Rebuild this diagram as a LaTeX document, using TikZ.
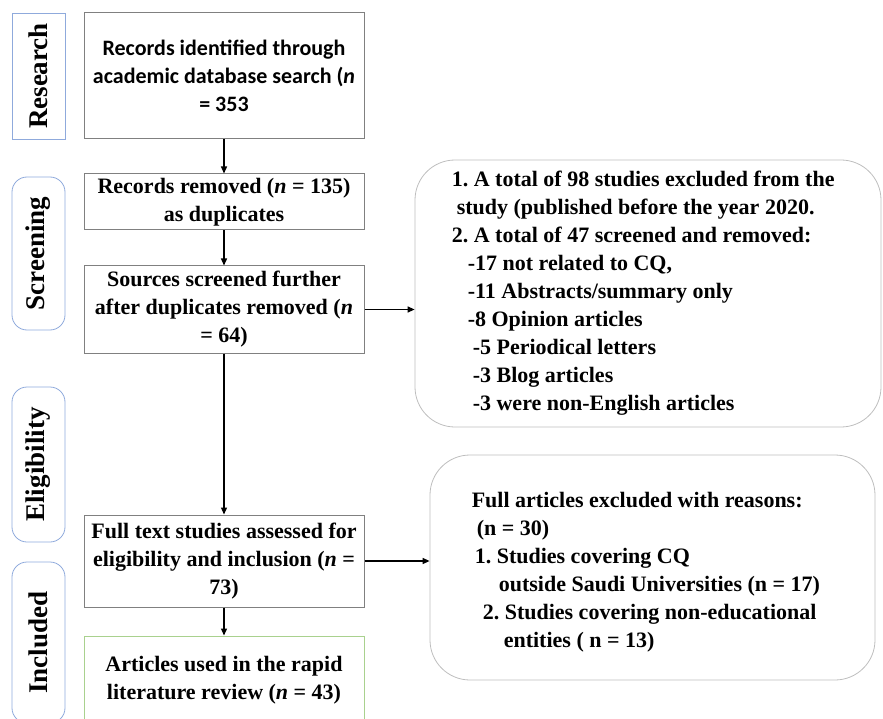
\documentclass[tikz,border=0pt]{standalone}
\usepackage{fontspec}
\setmainfont{Liberation Serif}
\newfontfamily\calibrifont{Carlito}
\usepackage{tikz}
\usetikzlibrary{positioning, arrows.meta}
\definecolor{boxgray}{RGB}{128, 128, 128}
\definecolor{exclgray}{RGB}{190, 190, 190}
\definecolor{stageblue}{RGB}{143, 170, 220}
\definecolor{includegreen}{RGB}{169, 209, 142}
\frenchspacing

\begin{document}
\begin{tikzpicture}[
  x=1pt, y=-1pt,
  flowbox/.style={draw=boxgray, line width=1pt, minimum width=280pt, align=center, inner sep=2pt, font=\bfseries\fontsize{22}{28}\selectfont},
  stagebox/.style={draw=stageblue, line width=0.8pt, rounded corners=15pt, rotate=90, minimum height=53pt, inner sep=0, font=\bfseries\fontsize{27}{30}\selectfont},
  exclbox/.style={draw=exclgray, line width=0.8pt, rounded corners=40pt},
  excltext/.style={align=left, inner sep=0, font=\bfseries\fontsize{22}{28}\selectfont},
  flow/.style={-{Triangle[length=7pt, width=6pt]}, line width=1.3pt},
]

% Page frame
\clip (0, 0) rectangle (883, 719);

% ==================== Stages ====================
\node[stagebox, rounded corners=0pt, minimum width=126pt] (research) at (38.5, 76) {Research};
\node[stagebox, minimum width=153pt] (screening) at (38.5, 253.5) {Screening};
\node[stagebox, minimum width=155pt] (eligibility) at (38.5, 464.5) {Eligibility};
\node[stagebox, minimum width=161pt] (included) at (38.5, 642.5) {Included};

% ==================== Main flow ====================
\node[flowbox, minimum height=126pt, font=\calibrifont\bfseries\fontsize{22}{28}\selectfont] (identified) at (224, 76) {
Records identified through\\
academic database search (\textit{n}\\
= 353
};
\node[flowbox, minimum height=56pt] (duplicates) at (224, 202) {
Records removed (\textit{n} = 135)\\
as duplicates
};
\node[flowbox, minimum height=87pt] (screened) at (224, 309.5) {
Sources screened further\\
after duplicates removed (\textit{n}\\
= 64)
};
\node[flowbox, minimum height=92pt] (assessed) at (224, 561) {
Full text studies assessed for\\
eligibility and inclusion (\textit{n} =\\
73)
};
\node[flowbox, draw=includegreen, minimum height=88pt] (review) at (224, 680) {
Articles used in the rapid\\
literature review (\textit{n} = 43)
};

% ==================== Exclusions ====================
\node[exclbox, minimum width=466pt, minimum height=267pt] (excluded) at (648, 293.5) {};
\node[excltext, right=37pt of excluded.west] (excludedtext) {
1. A total of 98 studies excluded from the\\
\hspace*{5pt}study (published before the year 2020.\\
2. A total of 47 screened and removed:\\
\hspace*{16pt}-17 not related to CQ,\\
\hspace*{16pt}-11 Abstracts/summary only\\
\hspace*{16pt}-8 Opinion articles\\
\hspace*{21pt}-5 Periodical letters\\
\hspace*{21pt}-3 Blog articles\\
\hspace*{21pt}-3 were non-English articles
};

\node[exclbox, minimum width=445pt, minimum height=225pt] (fullexcl) at (652.5, 567.5) {};
\node[excltext, right=42pt of fullexcl.west, yshift=-5pt] (fullexcltext) {
Full articles excluded with reasons:\\
\hspace*{5pt}(n = 30)\\
\hspace*{3pt}1. Studies covering CQ\\
\hspace*{27pt}outside Saudi Universities (n = 17)\\
\hspace*{11pt}2. Studies covering non-educational\\
\hspace*{32pt}entities ( n = 13)
};

% ==================== Arrows ====================
\draw[flow] (identified) -- (duplicates);
\draw[flow] (duplicates) -- (screened);
\draw[flow] (screened) -- (assessed);
\draw[flow] (assessed) -- (review);
\draw[flow] (screened.east) -- (screened.east -| excluded.west);
\draw[flow] (assessed.east) -- (assessed.east -| fullexcl.west);

\end{tikzpicture}
\end{document}
